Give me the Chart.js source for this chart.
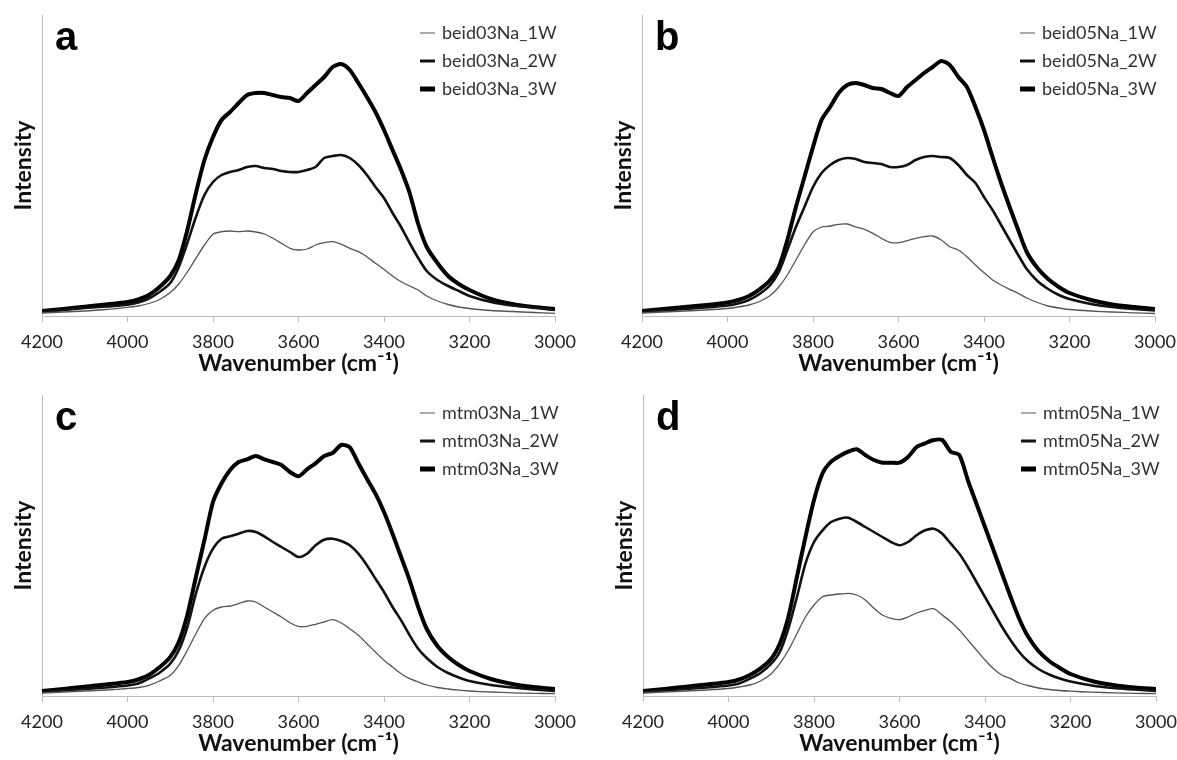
<!DOCTYPE html>
<html>
<head>
<meta charset="utf-8">
<script src="https://cdn.jsdelivr.net/npm/chart.js@4.4.1/dist/chart.umd.min.js"></script>
<style>
  body { margin: 0; background: #fff; overflow: hidden; }
  .panel { position: absolute; }
</style>
</head>
<body>
<div class="panel" style="left:0;top:0"><canvas id="chartA" width="590" height="380"></canvas></div>
<div class="panel" style="left:600px;top:0"><canvas id="chartB" width="590" height="380"></canvas></div>
<div class="panel" style="left:0;top:380px"><canvas id="chartC" width="590" height="380"></canvas></div>
<div class="panel" style="left:601px;top:380px"><canvas id="chartD" width="590" height="380"></canvas></div>
<script>
// wavenumber grid (cm-1), shared by all spectra
const wavenumbers = [4200, 4150, 4100, 4050, 4000, 3975, 3950, 3925, 3900,
  3880, 3860, 3840, 3820, 3800, 3780, 3760, 3740, 3720, 3700, 3680, 3660, 3640, 3620, 3600,
  3580, 3560, 3540, 3520, 3500, 3480, 3460, 3440, 3420, 3400, 3380, 3360, 3340, 3320,
  3300, 3275, 3250, 3225, 3200, 3150, 3100, 3050, 3000];
const xTicks = [4200, 4000, 3800, 3600, 3400, 3200, 3000];
const panelLetters = ['a', 'b', 'c', 'd'];

// intensities (arbitrary units)
const beid03Na_1W = [3, 4, 5, 6.5, 8.7, 10, 12.5, 16.5, 23.5,
  32, 44, 57.7, 71, 81.7, 84.3, 85, 84.3, 85, 84, 82, 77.7, 72.7, 67.7, 66,
  67, 71, 73.3, 74.3, 71.7, 67.7, 64.3, 59.3, 52.7, 46.7, 40, 34.3, 30, 26,
  20, 15, 11.5, 9, 7.5, 5.5, 4.5, 3.5, 2.7];
const beid03Na_2W = [4, 6, 8, 9.5, 11.4, 13.5, 17.5, 24, 33,
  49, 73, 99, 121, 134, 141, 144, 146, 149, 150, 148, 147, 145, 144, 144,
  146, 149, 158, 160, 161, 158, 151, 141, 129, 118, 103, 89, 73, 58,
  45, 36, 30, 25, 20, 14, 10.5, 8.7, 6];
const beid03Na_3W = [5, 7, 9.3, 11.5, 14, 16.5, 21, 29, 40,
  56, 86, 123, 156, 179, 196, 204, 213, 221, 223, 223, 221, 219, 218, 215,
  223, 231, 239, 249, 252, 246, 233, 219, 204, 186, 166, 146, 123, 92,
  69, 53, 40, 32, 26, 17, 12, 9, 7];

const beid05Na_1W = [3, 4, 5, 6, 7.5, 9, 11, 14.5, 20.5,
  29, 41, 56, 71, 84, 89, 90, 91.7, 92, 89, 86.7, 82.7, 77.7, 73.7, 73.3,
  75.3, 77.7, 79.3, 80, 76, 69.3, 66, 59.3, 51, 43.3, 36, 31, 26.7, 22.7,
  18, 13.5, 10, 8, 6.5, 5, 4, 3.2, 2.5];
const beid05Na_2W = [4, 5.5, 7, 8.5, 10.5, 12.5, 16, 22, 31,
  44, 66, 89, 109, 129, 143, 151, 156, 158, 157, 154, 153, 152, 149, 149,
  151, 156, 159, 160, 159, 158, 151, 141, 133, 119, 106, 91, 76, 61,
  47, 35, 27, 21, 17, 12, 9, 7, 5.5];
const beid05Na_3W = [5, 7, 9, 11, 13.5, 16, 20, 26.7, 36,
  49, 76, 109, 139, 169, 196, 209, 223, 231, 233, 231, 228, 227, 223, 220,
  229, 236, 243, 249, 255, 251, 239, 229, 209, 186, 159, 133, 109, 86,
  64, 48, 37, 29, 23, 16, 11.5, 9, 7];

const mtm03Na_1W = [3, 4, 5, 6, 7.5, 8.5, 10.7, 15, 20.7,
  30.7, 45.7, 62.3, 77.3, 85.7, 89, 90, 92.3, 95, 94, 89, 84, 79, 73.3, 69.7,
  69.7, 71.7, 74, 76.3, 73, 67.3, 60.7, 52.3, 44, 35.7, 29, 22.3, 17.3, 14,
  11, 8.5, 7, 5.8, 5, 4, 3.2, 2.7, 2.3];
const mtm03Na_2W = [4, 5.5, 7, 8.5, 10.5, 12.5, 17.3, 23.3, 32.3,
  45.7, 69, 102.3, 129, 147.3, 157.3, 159.7, 162.3, 165, 164, 159.7, 154, 149, 144, 139,
  142.3, 150.7, 156.3, 157.3, 155, 150.7, 142.3, 130.7, 117.3, 104, 89, 75.7, 60.7, 47.3,
  38, 29, 23, 18.5, 15, 11, 8.5, 6.5, 5];
const mtm03Na_3W = [5, 7, 9.3, 11.5, 14, 16.5, 21, 28.7, 39,
  54, 81, 119, 156, 194, 212.7, 226, 234, 236.7, 240, 236.7, 234, 231, 224, 219.7,
  226.7, 232.7, 240, 243, 251, 248.7, 232.7, 217.3, 202.3, 184, 162.3, 139, 115.7, 89,
  67, 50, 39, 31, 25, 17, 12, 9, 7];

const mtm05Na_1W = [3, 4, 5, 6, 7.5, 9, 11, 15, 22.3,
  32.3, 45.7, 62.3, 79, 91, 99.3, 101, 102, 102.7, 101, 96, 87.7, 81, 77.7, 76.3,
  79, 83, 85.7, 87.3, 81, 74.3, 66, 56, 46, 36, 27.3, 20.7, 17.3, 13,
  10.5, 8, 6.5, 5.5, 4.8, 3.8, 3.2, 2.7, 2.3];
const mtm05Na_2W = [4, 5.5, 7, 8.5, 10.5, 12.5, 17.3, 23, 32.3,
  44, 67.3, 99, 132.3, 154, 165.7, 174, 177.3, 178.3, 174, 169, 164, 159, 154, 150.7,
  154, 160.7, 165.7, 167.3, 162.3, 152.3, 142.3, 129, 114, 99, 84, 69, 55.7, 44,
  35, 27, 21.5, 17.5, 14.5, 10.5, 8, 6.5, 5];
const mtm05Na_3W = [5, 7, 9.3, 11.5, 14, 16.5, 21, 27.7, 37.3,
  52.3, 79, 119, 159, 196, 222.7, 234.3, 240, 244.3, 246.7, 241, 236, 233.3, 233.3, 233.3,
  239, 249, 252.7, 256, 256, 244.3, 241, 215.7, 192.3, 169, 145.7, 122.3, 99, 77.3,
  60, 45, 35, 28, 22, 15, 11, 8.5, 7];

const lineStyles = [
  { color: '#555555', width: 1.3, legendWidth: 1 },
  { color: '#111111', width: 2.6, legendWidth: 3 },
  { color: '#000000', width: 4, legendWidth: 5 }
];

// letter + legend drawn in the top part of each panel
const panelDecor = {
  id: 'panelDecor',
  afterDraw(chart, args, opts) {
    const ctx = chart.ctx;
    const area = chart.chartArea;
    ctx.save();
    ctx.fillStyle = '#000';
    ctx.textBaseline = 'alphabetic';
    ctx.font = 'bold 40px "Liberation Sans", Arial, sans-serif';
    ctx.fillText(opts.letter, area.left + 13, 50);

    ctx.font = '18px Lato, sans-serif';
    ctx.textBaseline = 'middle';
    chart.data.datasets.forEach((ds, i) => {
      const y = 33 + i * 28;
      ctx.strokeStyle = ds.borderColor;
      ctx.lineWidth = lineStyles[i].legendWidth;
      ctx.beginPath();
      ctx.moveTo(area.right - 135, y);
      ctx.lineTo(area.right - 120, y);
      ctx.stroke();
      ctx.fillStyle = '#333';
      ctx.fillText(ds.label, area.right - 113, y);
    });
    ctx.restore();
  }
};

function makePanel(canvasId, letter, names, series) {
  const canvas = document.getElementById(canvasId);
  const datasets = series.map((values, i) => ({
    label: names[i],
    data: wavenumbers.map((w, k) => ({ x: w, y: values[k] })),
    borderColor: lineStyles[i].color,
    borderWidth: lineStyles[i].width,
    pointRadius: 0,
    tension: 0.25,
    fill: false
  }));

  new Chart(canvas, {
    type: 'line',
    data: { datasets: datasets },
    plugins: [panelDecor],
    options: {
      responsive: false,
      animation: false,
      layout: {
        padding: { left: 0, top: 15, right: 35, bottom: 0 }
      },
      plugins: {
        legend: { display: false },
        tooltip: { enabled: false },
        panelDecor: { letter: letter }
      },
      scales: {
        x: {
          type: 'linear',
          reverse: true,
          min: xTicks[xTicks.length - 1],
          max: xTicks[0],
          afterBuildTicks: (scale) => { scale.ticks = xTicks.map(v => ({ value: v })); },
          afterFit: (scale) => { scale.height = 64; },
          ticks: {
            color: '#222',
            font: { family: 'Lato', size: 18 },
            padding: 9,
            maxRotation: 0,
            callback: (v) => String(v)
          },
          grid: {
            drawOnChartArea: false,
            drawTicks: true,
            tickLength: 6,
            color: '#bdbdbd'
          },
          border: { color: '#bdbdbd', width: 1 },
          title: {
            display: true,
            text: 'Wavenumber (cm⁻¹)',
            color: '#111',
            font: { family: 'Lato', size: 23, weight: 'bold' },
            padding: { top: 0, bottom: 3 }
          }
        },
        y: {
          min: 0,
          max: 301,
          afterFit: (scale) => { scale.width = 42; },
          ticks: { display: false },
          grid: { display: false },
          border: { display: true, color: '#bdbdbd', width: 1 },
          title: {
            display: true,
            text: 'Intensity',
            color: '#111',
            font: { family: 'Lato', size: 23, weight: 'bold' },
            padding: { top: 10, bottom: 0 }
          }
        }
      }
    }
  });
}

makePanel('chartA', panelLetters[0], ['beid03Na_1W', 'beid03Na_2W', 'beid03Na_3W'],
  [beid03Na_1W, beid03Na_2W, beid03Na_3W]);
makePanel('chartB', panelLetters[1], ['beid05Na_1W', 'beid05Na_2W', 'beid05Na_3W'],
  [beid05Na_1W, beid05Na_2W, beid05Na_3W]);
makePanel('chartC', panelLetters[2], ['mtm03Na_1W', 'mtm03Na_2W', 'mtm03Na_3W'],
  [mtm03Na_1W, mtm03Na_2W, mtm03Na_3W]);
makePanel('chartD', panelLetters[3], ['mtm05Na_1W', 'mtm05Na_2W', 'mtm05Na_3W'],
  [mtm05Na_1W, mtm05Na_2W, mtm05Na_3W]);
</script>
</body>
</html>
